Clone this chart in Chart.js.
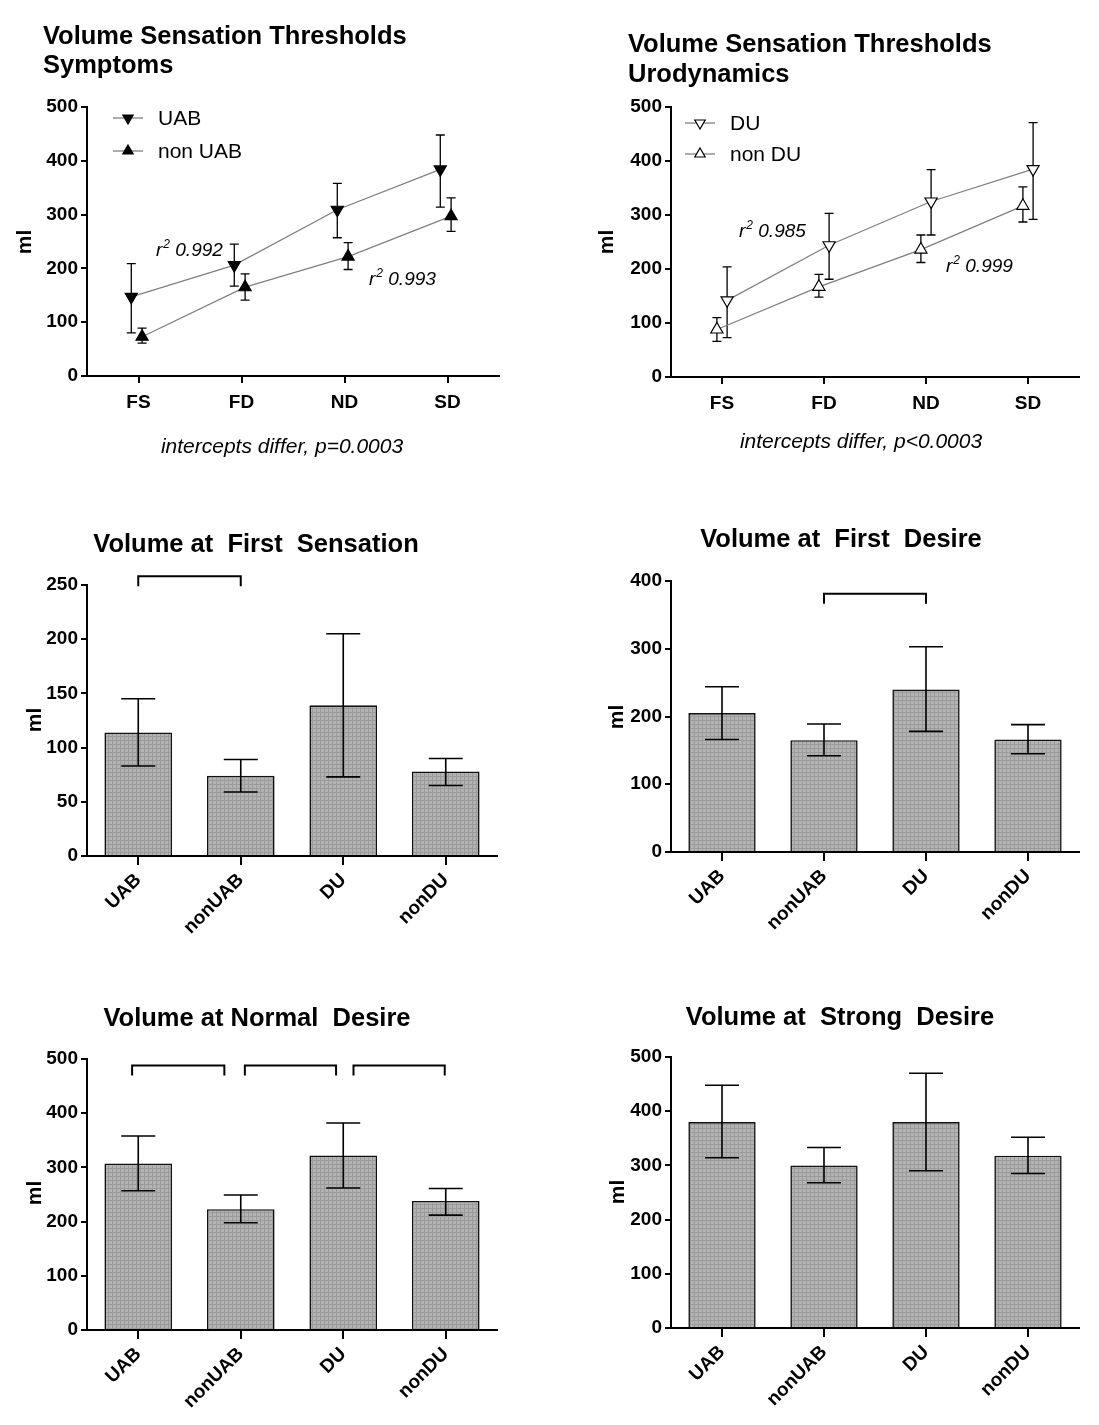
<!DOCTYPE html>
<html>
<head>
<meta charset="utf-8">
<script src="https://cdn.jsdelivr.net/npm/chart.js@4.4.1/dist/chart.umd.min.js"></script>
<style>
  body { margin: 0; background: #fff; width: 1099px; height: 1425px; position: relative; overflow: hidden; }
  canvas { position: absolute; }
</style>
</head>
<body>
<canvas id="c1"></canvas>
<canvas id="c2"></canvas>
<canvas id="c3"></canvas>
<canvas id="c4"></canvas>
<canvas id="c5"></canvas>
<canvas id="c6"></canvas>
<script>
// ---- data: volume thresholds (ml), mean with error bar ends ----
const stages = ['FS', 'FD', 'ND', 'SD'];
const lineTicks = [0, 100, 200, 300, 400, 500];

const uabMean  = [147, 206, 309, 384];
const uabLow   = [80, 167, 257, 314];
const uabHigh  = [209, 245, 358, 448];
const nonUabMean = [73, 165, 222, 297];
const nonUabLow  = [61, 141, 198, 269];
const nonUabHigh = [89, 190, 248, 331];

const duMean  = [142, 244, 325, 385];
const duLow   = [73, 181, 263, 292];
const duHigh  = [204, 303, 384, 471];
const nonDuMean = [88, 167, 236, 317];
const nonDuLow  = [66, 148, 212, 287];
const nonDuHigh = [110, 190, 263, 352];

const groups = ['UAB', 'nonUAB', 'DU', 'nonDU'];

const fsTicks = [0, 50, 100, 150, 200, 250];
const fsMean = [114, 74, 139, 78];
const fsLow  = [83, 59, 73, 65];
const fsHigh = [145, 89, 205, 90];
const fsBrackets = [[0, 1, 258]];

const fdTicks = [0, 100, 200, 300, 400];
const fdMean = [205, 165, 240, 166];
const fdLow  = [166, 142, 178, 145];
const fdHigh = [244, 189, 303, 188];
const fdBrackets = [[1, 2, 381]];

const ndTicks = [0, 100, 200, 300, 400, 500];
const ndMean = [307, 223, 322, 238];
const ndLow  = [257, 198, 262, 212];
const ndHigh = [358, 249, 382, 261];
const ndBrackets = [[-0.06, 0.84, 488], [1.04, 1.93, 488], [2.1, 2.99, 488]];

const sdTicks = [0, 100, 200, 300, 400, 500];
const sdMean = [380, 300, 380, 318];
const sdLow  = [314, 268, 290, 285];
const sdHigh = [448, 333, 470, 352];

// small horizontal shifts of the two series around each stage
const UAB_SHIFT = -0.07, NONUAB_SHIFT = 0.035;
const DU_SHIFT = 0.05, NONDU_SHIFT = -0.05;

// ---- styling helpers ----
const FONT = "'Liberation Sans', Arial, Helvetica, sans-serif";

function dotPattern() {
  const p = document.createElement('canvas');
  p.width = 4; p.height = 4;
  const g = p.getContext('2d');
  g.fillStyle = '#b3b3b3'; g.fillRect(0, 0, 4, 4);
  g.fillStyle = '#9b9b9b'; g.fillRect(0, 0, 1, 4); g.fillRect(0, 0, 4, 1);
  return g.createPattern(p, 'repeat');
}
const barFill = dotPattern();

// text drawn in page coordinates, shifted by the canvas offset
const decor = {
  id: 'decor',
  afterDraw(chart, args, opts) {
    const ctx = chart.ctx;
    const ox = opts.ox || 0, oy = opts.oy || 0;
    (opts.texts || []).forEach(t => {
      ctx.save();
      ctx.fillStyle = '#000';
      ctx.font = t.font;
      ctx.textAlign = t.align || 'left';
      ctx.textBaseline = 'alphabetic';
      ctx.translate(t.x - ox, t.y - oy);
      if (t.rot) ctx.rotate(t.rot);
      if (t.r2) {
        ctx.font = 'italic 19px ' + FONT;
        ctx.fillText('r', 0, 0);
        let w = ctx.measureText('r').width;
        ctx.font = 'italic 12px ' + FONT;
        ctx.fillText('2', w + 1, -8);
        w += ctx.measureText('2').width + 1;
        ctx.font = 'italic 19px ' + FONT;
        ctx.fillText(' ' + t.r2, w, 0);
      } else {
        ctx.fillText(t.text, 0, 0);
      }
      ctx.restore();
    });
    (opts.legend || []).forEach(l => {
      const x = l.x - ox, y = l.y - oy;
      ctx.save();
      ctx.strokeStyle = '#808080';
      ctx.lineWidth = 1.3;
      ctx.beginPath(); ctx.moveTo(x - 15, y); ctx.lineTo(x + 15, y); ctx.stroke();
      ctx.fillStyle = l.fill; ctx.strokeStyle = '#000'; ctx.lineWidth = 1.2;
      Chart.helpers.drawPoint(ctx, { pointStyle: 'triangle', rotation: l.rot, radius: 6, borderWidth: 1.2 }, x, y);
      ctx.fillStyle = '#000';
      ctx.font = '21px ' + FONT;
      ctx.textBaseline = 'alphabetic';
      ctx.fillText(l.label, x + 30, y + 7);
      ctx.restore();
    });
  }
};

// vertical error bars with caps, from dataset.low / dataset.high
function drawErrors(chart, cap, width) {
  const ctx = chart.ctx, ys = chart.scales.y;
  chart.data.datasets.forEach((ds, di) => {
    const meta = chart.getDatasetMeta(di);
    ds.low.forEach((lo, i) => {
      const el = meta.data[i];
      const yl = ys.getPixelForValue(lo), yh = ys.getPixelForValue(ds.high[i]);
      ctx.save();
      ctx.strokeStyle = '#000';
      ctx.lineWidth = width;
      ctx.beginPath();
      ctx.moveTo(el.x, yl); ctx.lineTo(el.x, yh);
      ctx.moveTo(el.x - cap, yh); ctx.lineTo(el.x + cap, yh);
      ctx.moveTo(el.x - cap, yl); ctx.lineTo(el.x + cap, yl);
      ctx.stroke();
      ctx.restore();
    });
  });
}
const errorBars = {
  id: 'errorBars',
  beforeDatasetsDraw(chart, args, opts) { if (!opts.front) drawErrors(chart, opts.cap, opts.width); },
  afterDatasetsDraw(chart, args, opts) { if (opts.front) drawErrors(chart, opts.cap, opts.width); }
};

// significance brackets: [fromIndex, toIndex, yValue]
const brackets = {
  id: 'brackets',
  afterDraw(chart, args, opts) {
    const ctx = chart.ctx, xs = chart.scales.x, ys = chart.scales.y;
    (opts.list || []).forEach(b => {
      const x1 = xs.getPixelForValue(b[0]), x2 = xs.getPixelForValue(b[1]);
      const y = ys.getPixelForValue(b[2]);
      ctx.save();
      ctx.strokeStyle = '#000';
      ctx.lineWidth = 2;
      ctx.beginPath();
      ctx.moveTo(x1, y + 10); ctx.lineTo(x1, y); ctx.lineTo(x2, y); ctx.lineTo(x2, y + 10);
      ctx.stroke();
      ctx.restore();
    });
  }
};

function place(id, box) {
  const c = document.getElementById(id);
  c.style.left = box[0] + 'px'; c.style.top = box[1] + 'px';
  c.width = box[2]; c.height = box[3];
  return c;
}

function pads(box, plot, yW, xH) {
  return {
    left: plot.left - box[0] - yW,
    top: plot.top - box[1],
    right: box[0] + box[2] - plot.right,
    bottom: box[1] + box[3] - plot.bottom - xH
  };
}

function yAxis(ticks, yW) {
  return {
    min: 0, max: ticks[ticks.length - 1],
    afterBuildTicks: s => { s.ticks = ticks.map(v => ({ value: v })); },
    afterFit: s => { s.width = yW; },
    grid: { display: true, drawOnChartArea: false, drawTicks: true, tickLength: 6, color: '#000', lineWidth: 2 },
    border: { display: true, color: '#000', width: 2 },
    ticks: { color: '#000', font: { family: FONT, size: 19, weight: 'bold' }, padding: 3 }
  };
}

function lineChart(id, box, plot, series, texts, legend) {
  const yW = 60, xH = 60;
  return new Chart(place(id, box), {
    type: 'line',
    data: {
      datasets: series.map(s => ({
        data: s.mean.map((v, i) => ({ x: i + 1 + s.shift, y: v })),
        low: s.low, high: s.high,
        borderColor: '#808080', borderWidth: 1.3, tension: 0, fill: false,
        pointStyle: 'triangle', rotation: s.rot, pointRadius: 7,
        pointBackgroundColor: s.fill, pointBorderColor: '#000', pointBorderWidth: 1.2
      }))
    },
    options: {
      responsive: false, animation: false,
      layout: { padding: pads(box, plot, yW, xH) },
      plugins: {
        legend: { display: false }, tooltip: { enabled: false },
        errorBars: { front: false, cap: 4.5, width: 1.3 },
        decor: { ox: box[0], oy: box[1], texts: texts, legend: legend }
      },
      scales: {
        x: {
          type: 'linear', min: 0.5, max: 4.5,
          afterBuildTicks: s => { s.ticks = stages.map((c, i) => ({ value: i + 1 })); },
          afterFit: s => { s.height = xH; },
          grid: { display: true, drawOnChartArea: false, drawTicks: true, tickLength: 7, color: '#000', lineWidth: 2 },
          border: { display: true, color: '#000', width: 2 },
          ticks: {
            color: '#000', font: { family: FONT, size: 19, weight: 'bold' }, padding: 8,
            maxRotation: 0, callback: v => stages[v - 1]
          }
        },
        y: yAxis(lineTicks, yW)
      }
    },
    plugins: [errorBars, decor]
  });
}

function barChart(id, box, plot, ticks, mean, low, high, list, texts) {
  const yW = 60, xH = box[3] - 104 > 400 ? 92 : 85;
  return new Chart(place(id, box), {
    type: 'bar',
    data: {
      labels: groups,
      datasets: [{
        data: mean, low: low, high: high,
        backgroundColor: barFill, borderColor: '#111', borderWidth: 1.6,
        barPercentage: 0.66, categoryPercentage: 1
      }]
    },
    options: {
      responsive: false, animation: false,
      layout: { padding: pads(box, plot, yW, xH) },
      plugins: {
        legend: { display: false }, tooltip: { enabled: false },
        errorBars: { front: true, cap: 17, width: 1.6 },
        brackets: { list: list },
        decor: { ox: box[0], oy: box[1], texts: texts }
      },
      scales: {
        x: {
          offset: true,
          afterFit: s => { s.height = xH; },
          grid: { display: true, offset: false, drawOnChartArea: false, drawTicks: true, tickLength: 9, color: '#000', lineWidth: 2 },
          border: { display: true, color: '#000', width: 2 },
          ticks: { color: '#000', font: { family: FONT, size: 19, weight: 'bold' }, padding: 4, minRotation: 45, maxRotation: 45 }
        },
        y: yAxis(ticks, yW)
      }
    },
    plugins: [errorBars, brackets, decor]
  });
}

const titleFont = 'bold 25.5px ' + FONT;
const mlFont = 'bold 21px ' + FONT;
const noteFont = 'italic 21px ' + FONT;
const up = -Math.PI / 2;

lineChart('c1', [0, 0, 550, 480], { left: 87, right: 499, top: 107, bottom: 376 },
  [
    { mean: uabMean, low: uabLow, high: uabHigh, shift: UAB_SHIFT, rot: 180, fill: '#000' },
    { mean: nonUabMean, low: nonUabLow, high: nonUabHigh, shift: NONUAB_SHIFT, rot: 0, fill: '#000' }
  ],
  [
    { text: 'Volume Sensation Thresholds', x: 43, y: 44, font: titleFont },
    { text: 'Symptoms', x: 43, y: 73, font: titleFont },
    { text: 'ml', x: 31, y: 242, rot: up, align: 'center', font: mlFont },
    { text: 'intercepts differ, p=0.0003', x: 282, y: 453, align: 'center', font: noteFont },
    { r2: '0.992', x: 156, y: 256 },
    { r2: '0.993', x: 369, y: 285 }
  ],
  [
    { label: 'UAB', x: 128, y: 118, rot: 180, fill: '#000' },
    { label: 'non UAB', x: 128, y: 151, rot: 0, fill: '#000' }
  ]);

lineChart('c2', [550, 0, 549, 480], { left: 671, right: 1079, top: 107, bottom: 377 },
  [
    { mean: duMean, low: duLow, high: duHigh, shift: DU_SHIFT, rot: 180, fill: '#fff' },
    { mean: nonDuMean, low: nonDuLow, high: nonDuHigh, shift: NONDU_SHIFT, rot: 0, fill: '#fff' }
  ],
  [
    { text: 'Volume Sensation Thresholds', x: 628, y: 52, font: titleFont },
    { text: 'Urodynamics', x: 628, y: 82, font: titleFont },
    { text: 'ml', x: 613, y: 242, rot: up, align: 'center', font: mlFont },
    { text: 'intercepts differ, p<0.0003', x: 861, y: 448, align: 'center', font: noteFont },
    { r2: '0.985', x: 739, y: 237 },
    { r2: '0.999', x: 946, y: 272 }
  ],
  [
    { label: 'DU', x: 700, y: 123, rot: 180, fill: '#fff' },
    { label: 'non DU', x: 700, y: 154, rot: 0, fill: '#fff' }
  ]);

barChart('c3', [0, 480, 550, 480], { left: 87, right: 497, top: 585, bottom: 856 },
  fsTicks, fsMean, fsLow, fsHigh, fsBrackets,
  [
    { text: 'Volume at  First  Sensation', x: 256, y: 552, align: 'center', font: titleFont },
    { text: 'ml', x: 41, y: 720, rot: up, align: 'center', font: mlFont }
  ]);

barChart('c4', [550, 480, 549, 480], { left: 671, right: 1079, top: 581, bottom: 852 },
  fdTicks, fdMean, fdLow, fdHigh, fdBrackets,
  [
    { text: 'Volume at  First  Desire', x: 841, y: 547, align: 'center', font: titleFont },
    { text: 'ml', x: 623, y: 717, rot: up, align: 'center', font: mlFont }
  ]);

barChart('c5', [0, 960, 550, 465], { left: 87, right: 497, top: 1059, bottom: 1330 },
  ndTicks, ndMean, ndLow, ndHigh, ndBrackets,
  [
    { text: 'Volume at Normal  Desire', x: 257, y: 1026, align: 'center', font: titleFont },
    { text: 'ml', x: 41, y: 1193, rot: up, align: 'center', font: mlFont }
  ]);

barChart('c6', [550, 960, 549, 465], { left: 671, right: 1079, top: 1057, bottom: 1328 },
  sdTicks, sdMean, sdLow, sdHigh, [],
  [
    { text: 'Volume at  Strong  Desire', x: 840, y: 1025, align: 'center', font: titleFont },
    { text: 'ml', x: 624, y: 1192, rot: up, align: 'center', font: mlFont }
  ]);
</script>
</body>
</html>
